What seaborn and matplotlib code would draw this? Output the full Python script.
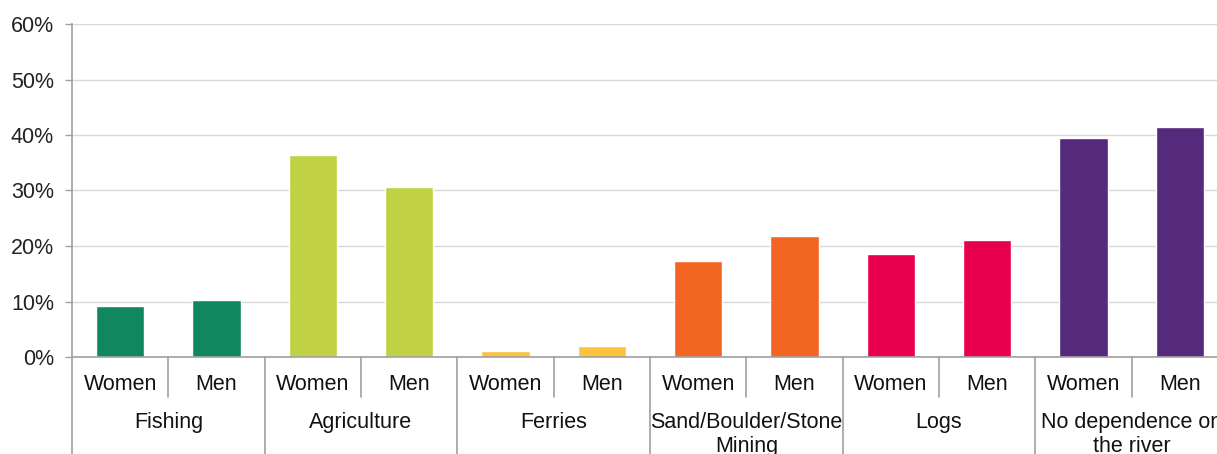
import numpy as np
import pandas as pd
import matplotlib
matplotlib.use("Agg")
import matplotlib.pyplot as plt
import seaborn as sns

# data (share of respondents, %)
categories = ["Fishing", "Agriculture", "Ferries", "Sand/Boulder/Stone\nMining", "Logs",
              "No dependence on\nthe river"]
genders = ["Women", "Men"]
women = [9.2, 36.4, 1.1, 17.3, 18.6, 39.5]
men = [10.3, 30.6, 2.0, 21.8, 21.1, 41.4]
colors = ["#10875E", "#C0D144", "#FBC43C", "#F26522", "#E8004F", "#55297C"]

rows = []
for i, cat in enumerate(categories):
    rows.append({"slot": f"{i}-Women", "cat": cat, "gender": "Women", "value": women[i] / 100})
    rows.append({"slot": f"{i}-Men", "cat": cat, "gender": "Men", "value": men[i] / 100})
df = pd.DataFrame(rows)
palette = [c for c in colors for _ in range(2)]

sns.set_style("white")
plt.rcParams["font.family"] = ["Liberation Sans", "DejaVu Sans"]

W, H = 1217, 454
fig = plt.figure(figsize=(W / 100, H / 100), dpi=100)
ax = fig.add_axes([72 / W, 97 / H, 1156 / W, 333 / H])

sns.barplot(data=df, x="slot", y="value", hue="slot", palette=palette,
            legend=False, width=0.5, ax=ax, saturation=1)

fs = 15.5
ax.set_ylim(0, 0.6)
ax.set_xlim(-0.5, len(df) - 0.5)
ax.set_yticks(np.arange(0, 0.61, 0.1))
ax.set_yticklabels([f"{int(round(v * 100))}%" for v in np.arange(0, 0.61, 0.1)],
                   fontsize=fs, color="#222222")
ax.yaxis.grid(True, color="#D9D9D9", linewidth=1)
ax.set_axisbelow(True)
ax.tick_params(axis="y", left=True, length=5, color="#A0A0A0", width=1, pad=8)
ax.set_xticks([])
ax.set_xlabel("")
ax.set_ylabel("")
for s in ["top", "right"]:
    ax.spines[s].set_visible(False)
for s in ["left", "bottom"]:
    ax.spines[s].set_color("#A0A0A0")
    ax.spines[s].set_linewidth(1.2)

trans = ax.get_xaxis_transform()
# gender labels and category labels
for k, row in df.iterrows():
    ax.text(k, -27 / 333, row["gender"], transform=trans, ha="center", va="center",
            fontsize=fs, color="#111111", clip_on=False)
for i, cat in enumerate(categories):
    ax.text(2 * i + 0.5, -55 / 333, cat, transform=trans, ha="center", va="top",
            fontsize=fs, color="#111111", linespacing=1.2, clip_on=False)

# separator lines below the axis
for k in range(len(df) + 1):
    low = -0.4 if k % 2 == 0 else -40 / 333
    ax.plot([k - 0.5, k - 0.5], [0, low], transform=trans, color="#A0A0A0",
            linewidth=1.2, clip_on=False)

fig.savefig("out.png", dpi=100)
